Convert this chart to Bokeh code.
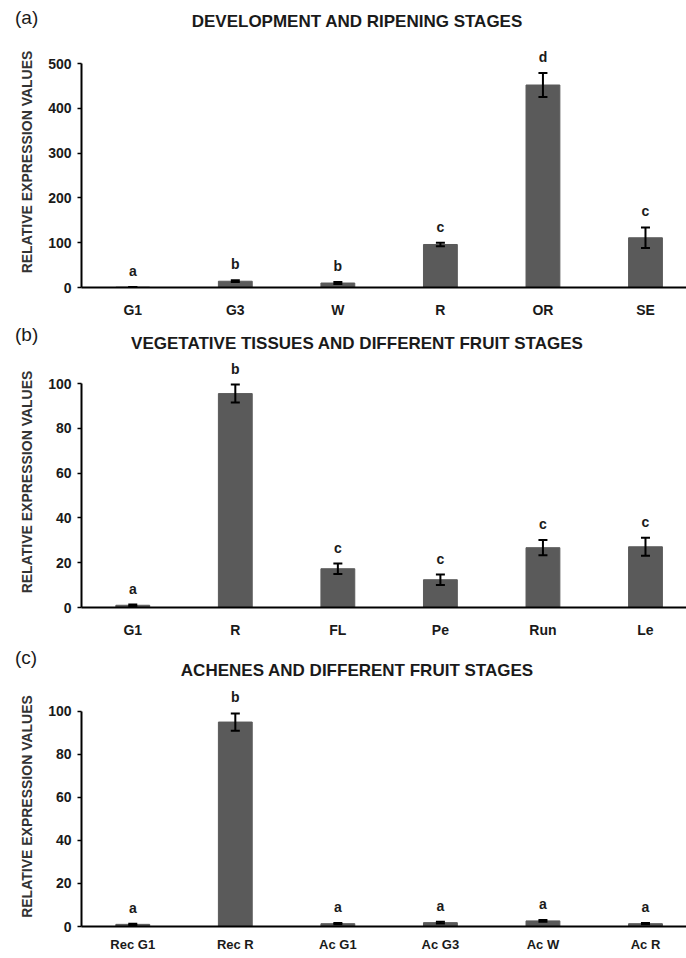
from bokeh.plotting import figure
from bokeh.models import (Range1d, FixedTicker, ColumnDataSource, Whisker,
                          TeeHead, LabelSet, Div)
from bokeh.core.properties import value
from bokeh.layouts import column
from bokeh.embed import file_html
from bokeh.resources import INLINE

# ---------------- data ----------------
cats_a = ["G1", "G3", "W", "R", "OR", "SE"]
vals_a = [0.7, 14, 10, 96, 452, 111]
errs_a = [0.3, 2, 2, 4, 27, 23]
lets_a = ["a", "b", "b", "c", "d", "c"]
ticks_a = [0, 100, 200, 300, 400, 500]

cats_b = ["G1", "R", "FL", "Pe", "Run", "Le"]
vals_b = [1.0, 95.5, 17.3, 12.4, 26.7, 27.1]
errs_b = [0.3, 4.0, 2.3, 2.3, 3.4, 4.0]
lets_b = ["a", "b", "c", "c", "c", "c"]
ticks_b = [0, 20, 40, 60, 80, 100]

cats_c = ["Rec G1", "Rec R", "Ac G1", "Ac G3", "Ac W", "Ac R"]
vals_c = [1.0, 95.0, 1.3, 1.8, 2.6, 1.3]
errs_c = [0.3, 4.0, 0.3, 0.4, 0.4, 0.3]
lets_c = ["a", "b", "a", "a", "a", "a"]
ticks_c = [0, 20, 40, 60, 80, 100]

panels = [
    ("(a)", "DEVELOPMENT AND RIPENING STAGES", cats_a, vals_a, errs_a, lets_a, ticks_a),
    ("(b)", "VEGETATIVE TISSUES AND DIFFERENT FRUIT STAGES", cats_b, vals_b, errs_b, lets_b, ticks_b),
    ("(c)", "ACHENES AND DIFFERENT FRUIT STAGES", cats_c, vals_c, errs_c, lets_c, ticks_c),
]

# layout (pixels)
W = 686
head_h = [36, 34, 46]          # header strip heights
tag_top = [7, 2, 7]            # top of tag line box in header
title_top = [12, 12, 21]       # top of title line box in header
main_h = [286, 284, 268]       # plot figure heights
gap_top = [27, 27, 25]         # px between frame top and top tick
bot = [35, 33, 26]             # bottom border
x_font = ["14px", "14px", "13px"]
x_standoff = [8, 8, 4]

FONT = "'Liberation Sans', Arial, sans-serif"
BAR = "#5a5a5a"
TXT = "#1a1a1a"

items = []
for i, (tag, title, cats, vals, errs, lets, ticks) in enumerate(panels):
    # ---- header strip with panel tag and title ----
    html = (
        f'<div style="position:relative;width:{W}px;height:{head_h[i]}px;'
        f'font-family:{FONT};color:{TXT};">'
        f'<span style="position:absolute;left:15px;top:{tag_top[i]}px;'
        f'font-size:19px;line-height:22px;white-space:nowrap;">{tag}</span>'
        f'<span style="position:absolute;left:0px;width:714px;top:{title_top[i]}px;'
        f'text-align:center;font-size:17px;font-weight:bold;line-height:20px;'
        f'white-space:nowrap;">{title}</span></div>'
    )
    h = Div(text=html, width=W, height=head_h[i], margin=0)
    items.append(h)

    # ---- bar chart ----
    xs = list(range(len(cats)))
    src = ColumnDataSource(dict(
        x=xs, top=vals,
        upper=[v + e for v, e in zip(vals, errs)],
        lower=[v - e for v, e in zip(vals, errs)],
        let=lets))
    frame_h = main_h[i] - bot[i]
    ymax = ticks[-1]
    y_end = ymax * frame_h / (frame_h - gap_top[i])
    p = figure(width=W, height=main_h[i], output_backend="svg",
               toolbar_location=None, tools="",
               x_range=Range1d(-0.5, 5.4), y_range=Range1d(0, y_end),
               min_border_left=81, min_border_right=0,
               min_border_top=0, min_border_bottom=bot[i])
    p.outline_line_color = None
    p.grid.visible = False

    p.vbar(x="x", top="top", width=0.33, source=src,
           fill_color=BAR, line_color=BAR)

    w = Whisker(base="x", upper="upper", lower="lower", source=src,
                level="overlay", line_color="black", line_width=2,
                upper_head=TeeHead(size=9, line_width=2, line_color="black"),
                lower_head=TeeHead(size=9, line_width=2, line_color="black"))
    p.add_layout(w)

    ls = LabelSet(x="x", y="upper", text="let", source=src,
                  y_offset=8, text_align="center", text_baseline="bottom",
                  text_font=value(FONT), text_font_style=value("bold"),
                  text_font_size=value("14px"), text_color=TXT)
    p.add_layout(ls)

    # axes
    xa = p.xaxis[0]
    xa.ticker = FixedTicker(ticks=xs)
    xa.major_label_overrides = {x: c for x, c in zip(xs, cats)}
    xa.major_tick_line_color = None
    xa.minor_tick_line_color = None
    xa.axis_line_width = 2
    xa.axis_line_color = "black"
    xa.major_label_text_font = FONT
    xa.major_label_text_font_style = "bold"
    xa.major_label_text_font_size = x_font[i]
    xa.major_label_text_color = TXT
    xa.major_label_standoff = x_standoff[i]

    ya = p.yaxis[0]
    ya.ticker = FixedTicker(ticks=ticks)
    ya.bounds = (0, ymax)
    ya.minor_tick_line_color = None
    ya.major_tick_in = 0
    ya.major_tick_out = 4
    ya.major_tick_line_width = 1.5
    ya.axis_line_width = 2
    ya.axis_line_color = "black"
    ya.major_label_text_font = FONT
    ya.major_label_text_font_style = "bold"
    ya.major_label_text_font_size = "14px"
    ya.major_label_text_color = TXT
    ya.major_label_standoff = 6
    ya.axis_label = "RELATIVE EXPRESSION VALUES"
    ya.axis_label_text_font = FONT
    ya.axis_label_text_font_style = "bold"
    ya.axis_label_text_font_size = "14px"
    ya.axis_label_text_color = "#333333"
    ya.axis_label_standoff = 10
    items.append(p)

layout = column(*items, spacing=0)
open("out.html", "w").write(file_html(layout, INLINE))
